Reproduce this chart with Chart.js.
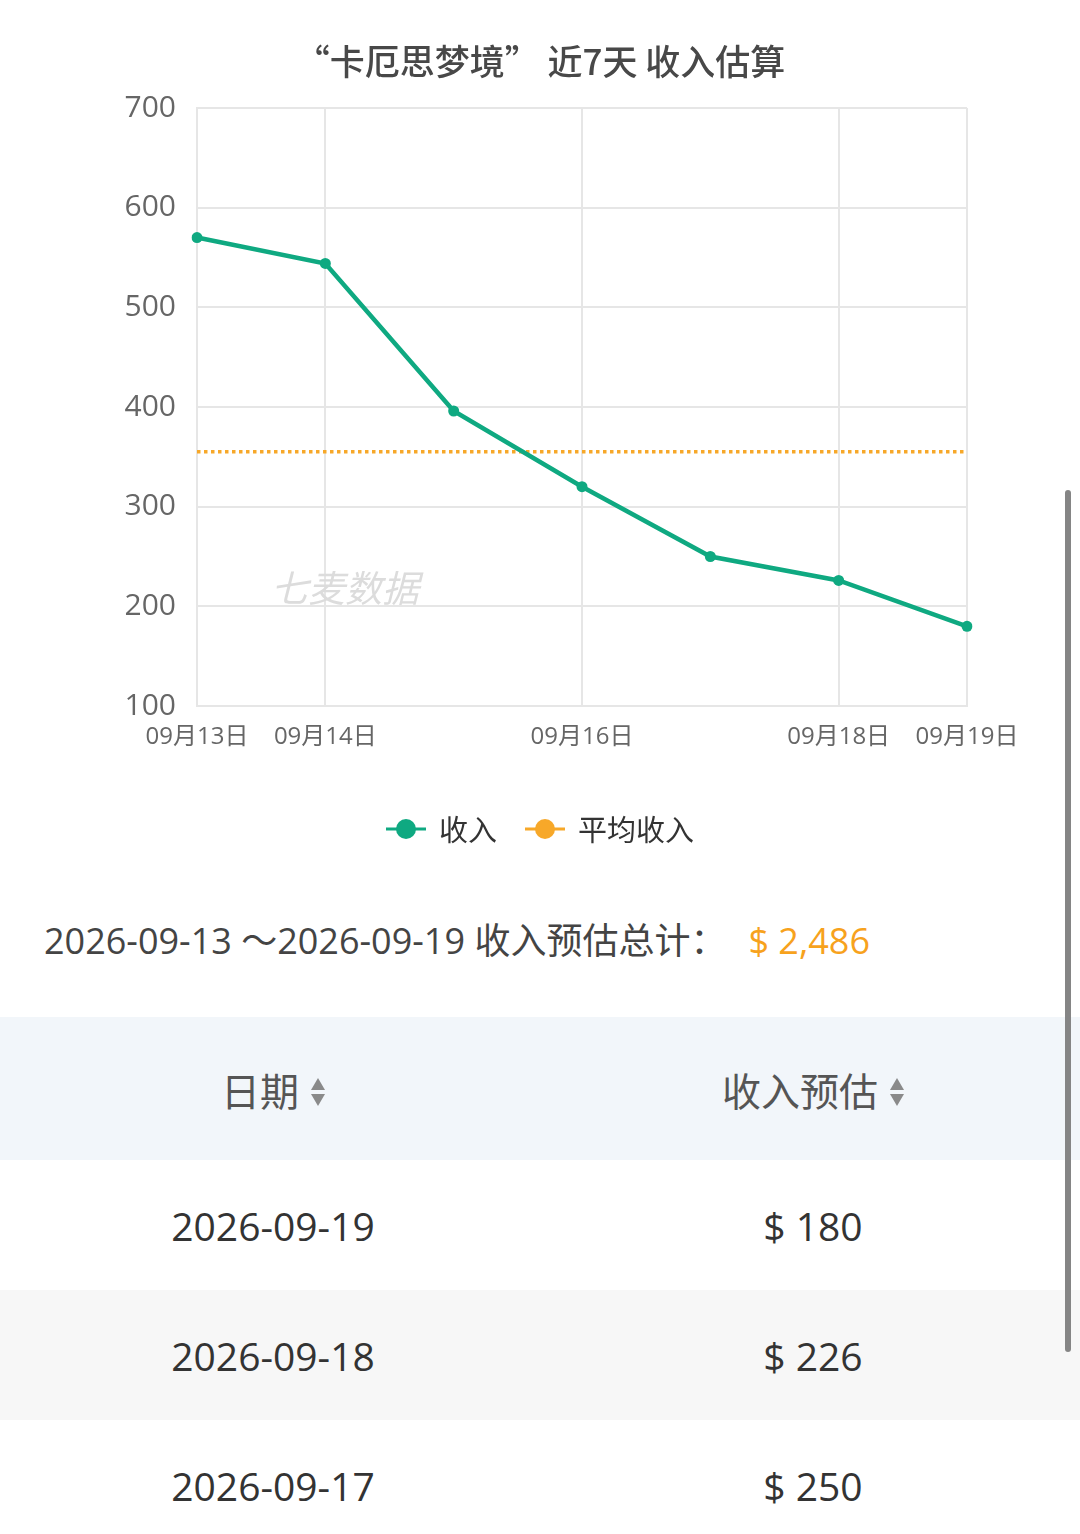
<!DOCTYPE html>
<html lang="zh-CN">
<head>
<meta charset="utf-8">
<title>卡厄思梦境 近7天 收入估算</title>
<script src="https://cdn.jsdelivr.net/npm/chart.js@4.4.1/dist/chart.umd.min.js"></script>
<style>
  html, body { margin: 0; padding: 0; background: #fff; }
  body {
    width: 1080px; height: 1534px; overflow: hidden; position: relative;
    font-family: "Open Sans", "Noto Sans CJK SC", sans-serif;
  }
  #chartBox { position: absolute; left: 0; top: 0; width: 1080px; height: 880px; }
  #summary {
    position: absolute; left: 44px; top: 910px; height: 62px; line-height: 62px;
    font-size: 36px; color: #444; white-space: nowrap;
  }
  #summary .total { color: #f7a21d; margin-left: 22px; }
  table {
    position: absolute; left: 0; top: 1017px; width: 1080px;
    border-collapse: collapse; table-layout: fixed;
  }
  th, td { text-align: center; padding: 0; }
  th {
    height: 143px; background: #f2f6fa; font-weight: normal;
    font-size: 39px; color: #555; font-family: "Noto Sans CJK SC", sans-serif;
  }
  td { height: 130px; font-size: 39px; color: #333; }
  tbody tr:nth-child(even) td { background: #f7f7f7; }
  .sort {
    display: inline-block; vertical-align: middle; margin-left: 12px;
    width: 14px; height: 30px; position: relative; top: -3px;
  }
  .sort::before, .sort::after {
    content: ""; position: absolute; left: 0; width: 0; height: 0;
    border-left: 7px solid transparent; border-right: 7px solid transparent;
  }
  .sort::before { top: 1px; border-bottom: 12px solid #8a8a8a; }
  .sort::after { bottom: 1px; border-top: 12px solid #8a8a8a; }
  #scrollbar {
    position: absolute; left: 1065px; top: 490px; width: 6px; height: 862px;
    border-radius: 3px; background: #858585;
  }
</style>
</head>
<body>
<div id="chartBox"><canvas id="revChart" width="1080" height="880"></canvas></div>
<div id="summary"></div>
<table>
  <colgroup><col style="width:546px"><col style="width:534px"></colgroup>
  <thead><tr><th>日期<span class="sort"></span></th><th>收入预估<span class="sort"></span></th></tr></thead>
  <tbody id="rows"></tbody>
</table>
<div id="scrollbar"></div>

<script>
// chart data
const chartTitle = '“卡厄思梦境” 近7天 收入估算';
const dayLabels = ['09月13日', '09月14日', '09月15日', '09月16日', '09月17日', '09月18日', '09月19日'];
const fullDates = ['2026-09-13', '2026-09-14', '2026-09-15', '2026-09-16', '2026-09-17', '2026-09-18', '2026-09-19'];
const revenue = [570, 544, 396, 320, 250, 226, 180];
const hiddenLabels = [2, 4]; // labels skipped on the x axis
const yMin = 100;
const yMax = 700;
const yStep = 100;

const green = '#0fa981';
const orange = '#f7a829';
const numFont = '"Open Sans", "Noto Sans CJK SC", sans-serif';
const cjkFont = '"Noto Sans CJK SC", sans-serif';

const total = revenue.reduce((a, b) => a + b, 0);
const avg = total / revenue.length;
const avgLine = revenue.map(() => avg);

// text below the chart + table
document.getElementById('summary').innerHTML =
  fullDates[0] + ' ～' + fullDates[fullDates.length - 1] + ' 收入预估总计：' +
  '<span class="total">$ ' + total.toLocaleString('en-US') + '</span>';

const tbody = document.getElementById('rows');
for (let i = revenue.length - 1; i >= 0; i--) {
  const tr = document.createElement('tr');
  tr.innerHTML = '<td>' + fullDates[i] + '</td><td>$ ' + revenue[i] + '</td>';
  tbody.appendChild(tr);
}

// title, watermark and legend drawn on the canvas
const decorations = {
  id: 'decorations',
  beforeDatasetsDraw(chart) {
    const ctx = chart.ctx;
    const area = chart.chartArea;
    ctx.save();
    ctx.font = 'italic 37px ' + cjkFont;
    ctx.fillStyle = '#dcdcdc';
    ctx.textAlign = 'center';
    ctx.textBaseline = 'middle';
    ctx.fillText('七麦数据', area.left + 148, 588);
    ctx.restore();
  },
  afterDraw(chart) {
    const ctx = chart.ctx;
    ctx.save();
    // title
    ctx.font = '500 35px ' + cjkFont;
    ctx.fillStyle = '#484848';
    ctx.textAlign = 'center';
    ctx.textBaseline = 'middle';
    ctx.fillText(chartTitle, chart.width / 2, 62);

    // legend
    ctx.font = '29px ' + cjkFont;
    const items = chart.data.datasets.map(ds => ({
      text: ds.label, color: ds.legendColor,
      w: 40 + 13 + ctx.measureText(ds.label).width
    }));
    const gap = 28;
    const fullW = items.reduce((s, it) => s + it.w, 0) + gap * (items.length - 1);
    let x = chart.width / 2 - fullW / 2;
    const y = 829;
    ctx.textAlign = 'left';
    items.forEach(it => {
      ctx.strokeStyle = it.color;
      ctx.lineWidth = 3;
      ctx.beginPath();
      ctx.moveTo(x, y);
      ctx.lineTo(x + 40, y);
      ctx.stroke();
      ctx.fillStyle = it.color;
      ctx.beginPath();
      ctx.arc(x + 20, y, 10, 0, Math.PI * 2);
      ctx.fill();
      ctx.fillStyle = '#333';
      ctx.fillText(it.text, x + 53, y + 1);
      x += it.w + gap;
    });
    ctx.restore();
  }
};

const gridColor = '#e6e6e6';

new Chart(document.getElementById('revChart'), {
  type: 'line',
  data: {
    labels: dayLabels,
    datasets: [
      {
        label: '收入',
        data: revenue,
        borderColor: green,
        backgroundColor: green,
        legendColor: green,
        borderWidth: 4.5,
        pointRadius: 5.5,
        pointBorderWidth: 0,
        tension: 0,
        order: 1
      },
      {
        label: '平均收入',
        data: avgLine,
        borderColor: orange,
        backgroundColor: orange,
        legendColor: orange,
        borderWidth: 3.5,
        borderDash: [3.5, 3.5],
        pointRadius: 0,
        order: 2
      }
    ]
  },
  options: {
    responsive: false,
    animation: false,
    layout: { padding: { top: 108, right: 113, bottom: 114, left: 0 } },
    plugins: {
      legend: { display: false },
      title: { display: false },
      tooltip: { enabled: false }
    },
    scales: {
      x: {
        offset: false,
        afterFit(scale) { scale.height = 60; },
        grid: {
          drawTicks: false,
          lineWidth: 2,
          color: c => hiddenLabels.includes(c.index) ? 'rgba(0,0,0,0)' : gridColor
        },
        border: { color: gridColor, width: 2 },
        ticks: {
          autoSkip: false,
          maxRotation: 0,
          padding: 17,
          color: '#666',
          font: { size: 24, family: numFont },
          callback: (v, i) => hiddenLabels.includes(i) ? '' : dayLabels[i]
        }
      },
      y: {
        min: yMin,
        max: yMax,
        afterFit(scale) { scale.width = 197; },
        grid: { drawTicks: false, lineWidth: 2, color: gridColor },
        border: { color: gridColor, width: 2 },
        ticks: {
          stepSize: yStep,
          padding: 21,
          color: '#666',
          font: { size: 30, family: numFont }
        }
      }
    }
  },
  plugins: [decorations]
});
</script>
</body>
</html>
